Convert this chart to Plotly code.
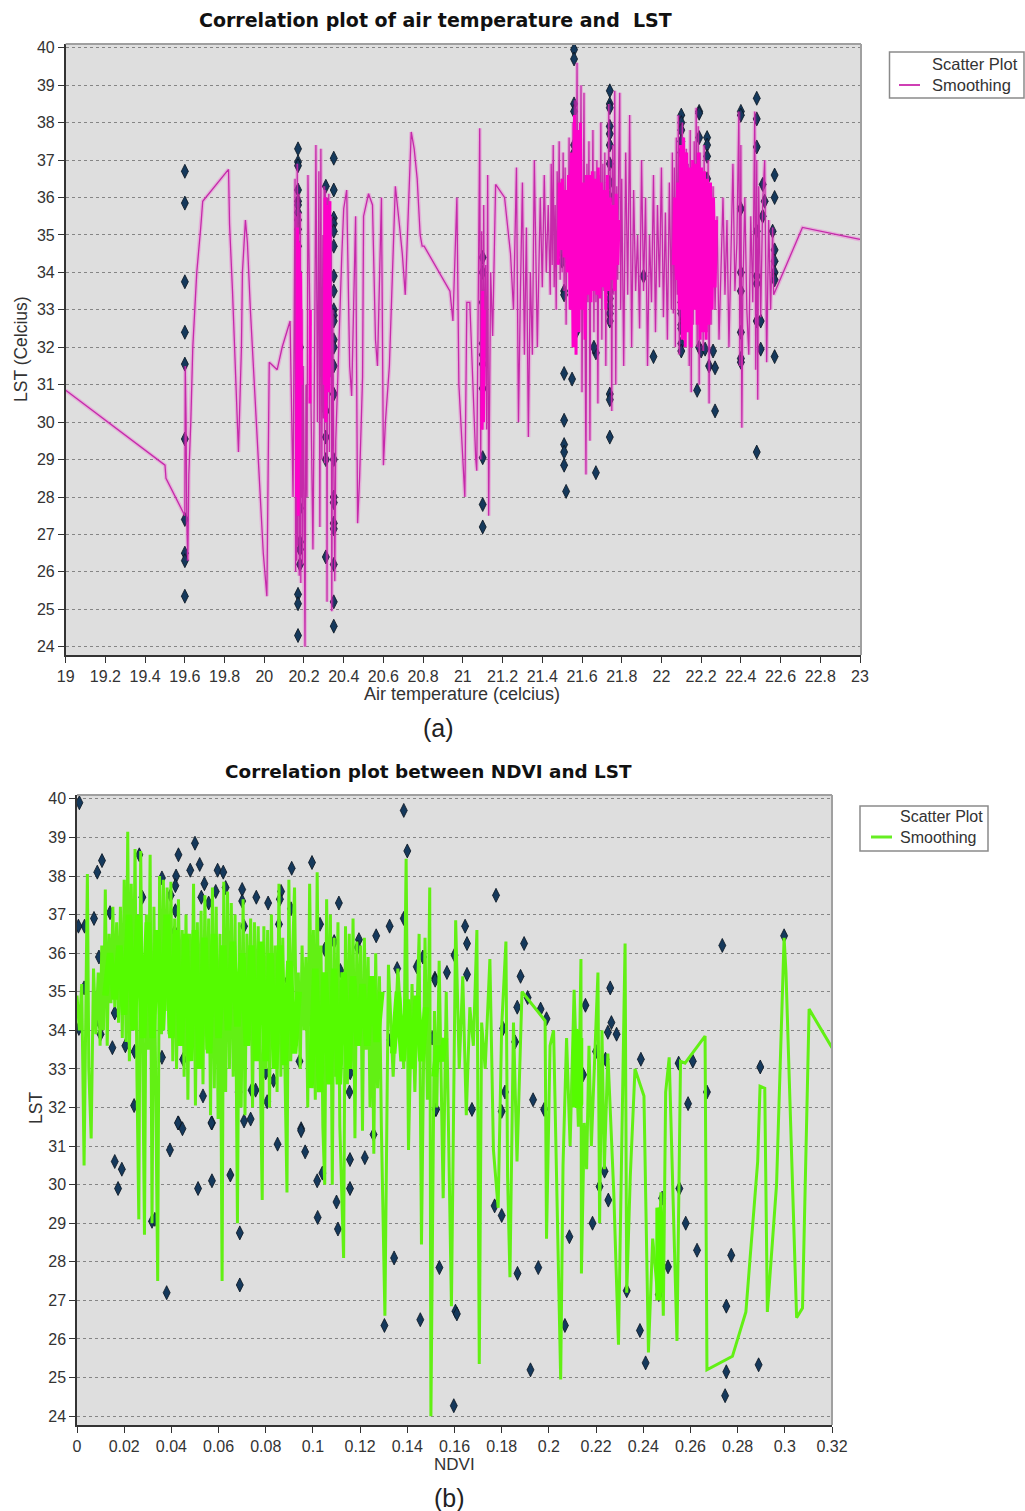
import plotly.graph_objects as go

# ---------- panel (a) scatter ----------
air_pts_x = [19.6]*10 + [20.17]*15 + [20.18]*10 + [20.31]*6 + [20.35]*23 + [21.1]*10 \
    + [21.5,21.5,21.5,21.5,21.51,21.51,21.51,21.51,21.51,21.51,21.51,21.52] \
    + [21.56]*8 + [21.55,21.57,21.54] + [21.67,21.67,21.66] + [21.74]*18 + [21.91,21.96] \
    + [22.1]*12 + [22.19,22.19,22.19,22.18,22.19,22.2] + [22.23,22.23,22.23,22.23,22.22,22.24,22.27,22.27,22.26] \
    + [22.4]*8 + [22.48]*8 + [22.51,22.52,22.51,22.5,22.5] + [22.57,22.57,22.57,22.57,22.57,22.57,22.57,22.56]
lst_pts_a = [36.7,35.85,33.75,32.4,31.55,29.55,27.4,26.5,26.3,25.35,
    37.3,36.95,36.85,36.2,35.9,35.8,35.6,35.4,35.15,34.7,34,33.8,25.4,25.15,24.3,
    28.3,27.7,26.8,26.6,26.2,32,31,30.5,30,29.8,
    36.3,32.2,30.3,29.6,29,26.4,
    37.05,36.2,35.45,35.3,35.1,34.7,33.9,33.5,33,32.85,32.7,32.2,32,31.5,30.75,29,28,27.85,27.3,27.15,26.2,25.2,24.55,
    34.4,34.0,33.2,32.1,31.8,31.55,30.9,29.05,27.8,27.2,
    34.9,34.7,34.5,34.3,33.5,33.4,31.3,30.05,29.4,29.2,28.85,28.15,
    39.95,39.7,38.5,38.3,37.4,37.2,36.9,36.4,31.15,32.4,34.3,
    31.85,28.65,32.0,
    38.85,38.5,38.4,37.9,37.7,37.4,36.9,36.4,36,35.5,33.5,33.3,33.1,32.9,32.7,30.75,30.6,29.6,
    33.9,31.75,
    38.2,38,37.8,37.5,37.2,33.2,33,32.9,32.6,32.1,31.9,32.5,
    38.3,38.25,37.6,30.85,32,31.9,
    37.6,37.4,37.1,36.5,31.95,31.5,30.3,31.45,31.9,
    38.3,38.2,35.7,34.0,33.5,32.4,31.7,31.6,
    38.65,38.1,37.35,35.1,33.9,33.7,32.7,29.2,
    36.35,35.9,35.5,32.7,31.95,
    36.6,36,34.6,34.3,34,33.8,31.75,35.1]

# ---------- panel (a) line ----------
air_line = [19.0,19.5,19.505,19.6,19.602,19.606,19.61,19.615,19.62,19.63,
    19.64,19.66,19.68,19.69,19.82,19.825,19.84,19.855,19.86,19.87,
    19.885,19.89,19.905,19.915,19.93,19.945,19.96,19.98,19.995,20.013,
    20.02,20.025,20.065,20.09,20.13,20.145,20.155,20.158,20.161,20.164,
    20.166,20.168,20.17,20.172,20.174,20.176,20.178,20.18,20.182,20.184,
    20.186,20.188,20.19,20.193,20.196,20.199,20.202,20.205,20.21,20.215,
    20.22,20.228,20.235,20.245,20.255,20.26,20.268,20.275,20.28,20.285,
    20.29,20.295,20.298,20.301,20.304,20.307,20.31,20.313,20.316,20.319,
    20.322,20.325,20.328,20.331,20.334,20.337,20.34,20.345,20.35,20.355,
    20.36,20.38,20.39,20.4,20.415,20.43,20.44,20.46,20.47,20.48,
    20.495,20.5,20.525,20.545,20.56,20.57,20.59,20.6,20.61,20.63,
    20.645,20.66,20.68,20.695,20.71,20.72,20.73,20.74,20.755,20.77,
    20.785,20.795,20.805,20.935,20.95,20.97,20.98,21.01,21.02,21.035,
    21.065,21.07,21.085,21.09,21.095,21.1,21.105,21.11,21.115,21.12,
    21.125,21.13,21.14,21.15,21.165,21.21,21.24,21.255,21.27,21.28,
    21.29,21.3,21.31,21.32,21.33,21.34,21.35,21.36,21.375,21.39,
    21.4,21.41,21.42,21.43,21.44,21.445,21.45,21.455,21.46,21.465,
    21.47,21.475,21.48,21.485,21.49,21.495,21.5,21.505,21.51,21.515,
    21.52,21.525,21.53,21.535,21.54,21.545,21.55,21.555,21.56,21.565,
    21.57,21.575,21.58,21.585,21.59,21.595,21.6,21.605,21.61,21.615,
    21.62,21.625,21.63,21.635,21.64,21.645,21.65,21.655,21.66,21.665,
    21.67,21.675,21.68,21.685,21.69,21.695,21.7,21.705,21.71,21.715,
    21.72,21.725,21.73,21.735,21.74,21.745,21.75,21.755,21.76,21.765,
    21.77,21.775,21.78,21.785,21.79,21.795,21.8,21.81,21.82,21.83,
    21.84,21.85,21.86,21.87,21.88,21.89,21.9,21.91,21.92,21.93,
    21.94,21.95,21.96,21.97,21.98,21.99,22.0,22.01,22.02,22.03,
    22.04,22.05,22.055,22.06,22.065,22.07,22.075,22.08,22.085,22.09,
    22.095,22.1,22.105,22.11,22.115,22.12,22.125,22.13,22.135,22.14,
    22.145,22.15,22.155,22.16,22.165,22.17,22.175,22.18,22.185,22.19,
    22.195,22.2,22.205,22.21,22.215,22.22,22.225,22.23,22.235,22.24,
    22.245,22.25,22.255,22.26,22.27,22.28,22.29,22.3,22.31,22.32,
    22.33,22.34,22.35,22.36,22.37,22.38,22.39,22.395,22.4,22.405,
    22.41,22.42,22.43,22.44,22.45,22.46,22.47,22.475,22.48,22.485,
    22.49,22.5,22.51,22.52,22.53,22.54,22.55,22.56,22.565,22.71,
    23.0]
lst_line_a = [30.85,28.85,28.5,27.5,31.5,30.1,27.3,26.3,28.6,30,
    32,34,35.2,35.9,36.75,35.3,33.5,31.5,30.5,29.2,
    32,34,35.4,34.8,33,31.5,30,28,26.5,25.35,
    28.5,31.6,31.4,32,32.7,28,36.5,26.0,35.5,26.3,
    36.9,26.7,35.0,27.5,36.1,25.9,34.8,27.0,35.6,25.7,
    33.9,28.0,33.0,26.2,31.5,30.0,25.5,24.0,31.0,28.0,
    36.6,33.3,30.0,26.6,33.0,37.4,30.0,36.7,27.2,37.3,
    29.0,35.0,30.1,36.3,28.9,36.2,30.5,36.0,25.2,36.0,
    31.0,36.1,29.2,35.9,31.2,35.5,24.95,33.0,29.0,25.75,
    29.5,33,34.4,35.7,36.2,31.5,30.7,35.5,27.3,28.5,
    31.2,35.5,36.1,35.8,32.2,31.5,36,28.85,30,31.5,
    34,36.3,35.3,34.5,33.4,34.8,36.5,37.75,37.3,36.5,
    35,34.7,34.7,33.5,32.7,36,31,28,33.2,33.2,
    29,28.7,37.85,29,35.1,29.8,35.8,31.0,34.2,29.8,
    36.6,27.5,34.0,32.3,36.35,36,34.5,33,36.8,30.0,
    33.5,36.4,31.8,35.2,29.6,34.0,31.8,37.0,32.0,36.0,
    33.6,36.6,34.0,35.8,33.4,36.9,34.2,37.4,33.6,35.8,
    33.0,36.7,34.5,37.5,33.8,36.5,34.0,37.2,33.5,36.8,
    32.6,36.0,34.2,37.6,33.4,36.4,34.3,38.0,32.0,38.6,
    33.8,39.6,33.5,36.8,34.0,39.0,30.8,36.5,38.8,33.0,
    28.6,36.9,33.2,37.5,29.5,36.4,34.0,37.8,32.4,36.7,
    33.2,37.0,30.5,36.6,33.8,38.0,32.2,36.9,33.5,37.2,
    31.5,36.5,34.0,38.5,32.6,36.8,30.3,37.4,33.4,38.85,
    31.0,36.3,33.8,37.0,38.8,33.0,36.5,31.5,37.2,33.4,
    38.2,32.0,36.2,33.5,35.0,32.5,37.0,33.5,36.0,31.5,
    35.0,33.2,36.6,32.4,35.8,33.6,36.8,32.8,35.6,32.2,
    36.4,33.0,37.2,32.9,36.8,32.0,37.6,33.4,38.2,31.8,
    37.0,33.2,38.0,34.0,36.6,32.5,37.3,33.5,36.9,31.5,
    37.8,30.8,36.5,32.6,37.5,33.0,38.4,32.0,37.9,31.0,
    37.2,33.4,36.5,31.9,37.4,33.0,36.0,32.4,37.0,30.5,
    36.0,32.6,34.8,36.3,33.0,35.5,32.2,34.4,36.0,33.4,
    35.4,32.0,34.6,36.9,33.5,34.8,38.3,31.5,37.4,29.85,
    33.5,36.0,33.0,31.8,35.5,33.2,38.3,31.4,37.0,30.6,
    36.3,32.8,35.9,37.0,31.6,35.4,33.0,35.2,33.4,35.2,
    34.88]

# overlap core of panel (a): where the line folds over itself the colour saturates
air_core = [20.163,20.167,20.171,20.175,20.179,20.183,20.187,None,
    20.23,20.232,None,
    20.302,20.306,20.31,20.314,20.318,20.322,20.326,20.33,None,
    21.096,21.1,21.104,21.108,None,
    21.48,21.487,21.495,21.502,21.51,21.517,21.525,21.532,21.54,21.547,
    21.555,21.562,21.57,21.577,21.585,21.592,21.6,21.607,21.615,21.622,
    21.63,21.637,21.645,21.652,21.66,21.667,21.675,21.682,21.69,21.697,
    21.705,21.712,21.72,21.727,21.735,21.742,21.75,21.757,21.765,21.772,
    21.78,21.787,None,
    22.06,22.067,22.075,22.082,22.09,22.097,22.105,22.112,22.12,22.127,
    22.135,22.142,22.15,22.157,22.165,22.172,22.18,22.187,22.195,22.202,
    22.21,22.217,22.225,22.232,22.24,22.247,22.255,22.262,22.27,22.277]
lst_core_a = [28.0,35.2,27.5,34.8,29.0,34.0,31.0,None,
    30.5,33.0,None,
    31.0,36.0,30.0,35.8,31.5,35.5,30.8,35.9,None,
    29.8,33.5,30.0,33.0,None,
    34.2,36.4,34.6,36.5,34.4,36.2,34.0,36.6,33.0,37.2,
    32.0,38.2,31.8,37.8,32.4,38.0,33.0,36.4,32.2,36.6,
    33.4,36.6,33.2,36.7,33.5,36.5,33.4,36.8,33.3,36.4,
    33.6,36.2,33.0,36.6,33.5,36.0,33.8,35.8,33.5,36.1,
    34.2,35.4,None,
    34.2,36.0,33.8,36.4,33.0,37.4,32.2,37.6,32.0,37.2,
    32.4,36.8,32.0,37.0,33.0,36.9,32.6,37.2,32.2,36.8,
    32.4,36.7,32.2,36.5,32.6,36.4,33.0,36.0,33.6,35.4]

# ---------- panel (b) scatter ----------
ndvi_pts = [0.001,0.0086,0.0106,0.0264,0.05,0.043,0.052,0.048,0.042,0.0596,0.062,0.054,0.0417,0.0397,0.0277,0.036,
    0.063,0.0588,0.07,0.07,0.0558,0.0527,0.076,0.081,0.0865,0.086,0.091,0.0996,0.111,0.0907,0.0856,0.0708,
    0.0417,0.0414,0.014,0.0072,0.0032,0.0006,0.0093,0.015,0.003,0.0093,0.0093,0.0096,0.01,0.0008,0.016,0.015,
    0.0205,0.0244,0.0213,0.036,0.045,0.0242,0.0534,0.043,0.0447,0.0572,0.0736,0.0708,0.074,0.0757,0.0685,0.0806,
    0.095,0.0943,0.08,0.0833,0.1158,0.1155,0.1328,0.1257,0.152,0.1517,0.144,0.1466,0.1357,0.1325,0.1268,0.1385,
    0.1385,0.14,0.1195,0.119,0.109,0.105,0.103,0.1116,0.0895,0.1254,
    0.1776,0.1645,0.1653,0.1653,0.1518,0.1568,0.16,0.1895,0.188,0.191,0.1866,0.1965,0.199,0.2155,0.226,0.2265,
    0.225,0.2287,0.22,0.224,0.239,0.255,0.261,0.267,0.259,0.2896,0.2735,0.2997,0.1806,0.1857,0.1814,0.1674,
    0.1933,0.198,0.1522,0.1505,0.2145,0.18,
    0.1303,0.1344,0.1455,0.1536,0.1604,0.161,0.1597,0.177,0.18,0.1867,0.1922,0.1955,0.2068,0.2087,0.2185,0.2215,
    0.2236,0.2252,0.233,0.2386,0.241,0.2466,0.248,0.2505,0.2553,0.258,0.2628,0.2773,0.2752,0.2752,0.2747,0.2889,
    0.016,0.019,0.0174,0.0318,0.033,0.038,0.0394,0.0428,0.0513,0.0572,0.065,0.069,0.069,0.057,0.085,0.095,
    0.0967,0.1018,0.102,0.104,0.1106,0.11,0.1157,0.1157,0.122]
lst_pts_b = [39.9,38.1,38.4,38.55,38.85,38.55,38.3,38.15,38.0,38.15,38.1,37.8,37.75,37.5,37.45,37.95,
    37.7,37.6,37.65,37.35,37.3,37.45,37.45,37.3,37.6,37.4,38.2,38.35,37.3,37.15,36.75,36.7,
    37.1,36.55,37.05,36.9,36.7,36.7,35.9,36.0,35.1,34.95,34.6,34.2,33.9,34.05,34.45,33.55,
    33.6,33.45,34.7,33.3,33.25,32.05,32.3,31.6,31.45,31.6,31.7,31.65,32.45,32.45,32.4,32.15,
    31.45,33.2,32.9,32.7,32.9,32.4,33.75,31.3,31.95,35.35,35.65,35.9,35.6,36.7,36.45,36.9,
    39.7,38.65,36.35,36.15,36.3,36.1,36.75,35.55,35.3,33.1,
    37.5,36.7,36.25,35.45,35.3,35.5,35.95,36.25,35.4,34.85,34.6,34.55,34.3,34.65,35.1,34.2,
    33.95,33.9,33.45,33.25,33.25,33.15,33.2,32.4,32.1,33.05,36.2,36.45,34.05,33.7,32.4,31.95,
    32.2,31.95,31.95,33.8,32.85,31.9,
    26.35,28.1,26.5,27.85,26.72,26.65,24.27,29.45,29.2,27.7,25.2,27.85,26.35,28.65,29,29.95,
    30.35,29.6,27.25,26.22,25.38,27.15,29.65,27.87,29.9,29,28.3,28.17,26.85,25.15,24.53,25.33,
    30.6,30.4,29.9,29.05,29.1,27.2,30.9,31.6,29.9,30.1,30.25,28.75,27.4,31.6,31.05,31.4,
    30.85,30.1,29.15,30.3,28.85,29.55,30.65,29.9,30.7]

# ---------- panel (b) line ----------
ndvi_line = [0.0,0.001,0.002,0.003,0.0044,0.005,0.006,0.007,0.008,0.009,
    0.0098,0.0105,0.0112,0.012,0.0128,0.0136,0.0144,0.0152,0.016,0.0168,
    0.0176,0.0184,0.0192,0.02,0.0208,0.0215,0.0222,0.023,0.0238,0.0246,
    0.0254,0.0262,0.027,0.0278,0.0286,0.0294,0.0302,0.031,0.0318,0.0326,
    0.0334,0.0342,0.035,0.0358,0.0366,0.0374,0.0382,0.039,0.0398,0.0406,
    0.0414,0.0422,0.043,0.0438,0.0446,0.0454,0.0462,0.047,0.0478,0.0486,
    0.0494,0.0502,0.051,0.0518,0.0526,0.0534,0.0542,0.055,0.0558,0.0566,
    0.0574,0.0582,0.059,0.0598,0.0606,0.0615,0.0622,0.063,0.0638,0.0646,
    0.0654,0.0662,0.067,0.068,0.0688,0.0696,0.0704,0.0712,0.072,0.0728,
    0.0736,0.0744,0.0752,0.076,0.0768,0.0776,0.0785,0.0792,0.08,0.0808,
    0.0816,0.0824,0.0832,0.084,0.0848,0.0856,0.0864,0.0872,0.088,0.089,
    0.0898,0.0906,0.0914,0.0922,0.093,0.0938,0.0946,0.0954,0.0962,0.097,
    0.0978,0.0986,0.0994,0.1002,0.101,0.1018,0.1026,0.1034,0.1042,0.105,
    0.1058,0.1066,0.1074,0.1082,0.109,0.1098,0.1106,0.1114,0.113,0.1138,
    0.1146,0.1154,0.1162,0.117,0.1178,0.1186,0.1194,0.1202,0.121,0.1218,
    0.1226,0.1234,0.1242,0.125,0.1258,0.1266,0.1274,0.1282,0.129,0.1305,
    0.132,0.134,0.136,0.1385,0.1395,0.1405,0.142,0.1432,0.145,0.146,
    0.1475,0.1485,0.1495,0.15,0.1515,0.1525,0.1535,0.1552,0.1565,0.1587,
    0.1605,0.162,0.1635,0.165,0.1665,0.168,0.1695,0.1705,0.1715,0.173,
    0.175,0.1765,0.1785,0.18,0.1818,0.1825,0.1835,0.185,0.1865,0.1886,
    0.1984,0.199,0.2005,0.202,0.205,0.206,0.2075,0.209,0.2107,0.2125,
    0.2136,0.2138,0.215,0.216,0.217,0.218,0.2208,0.2215,0.2225,0.2235,
    0.225,0.2275,0.2295,0.2323,0.233,0.2345,0.2365,0.2403,0.2422,0.244,
    0.246,0.2475,0.2485,0.2495,0.251,0.2543,0.2558,0.2577,0.2662,0.267,
    0.2778,0.2835,0.2885,0.2895,0.2915,0.2926,0.2965,0.2997,0.3005,0.305,
    0.3075,0.3103,0.32]
lst_line_b = [34.9,34.0,35.2,30.5,38.05,33.0,31.2,35.6,33.9,35.5,
    33.6,36.2,34.0,37.65,33.6,36.5,34.7,37.2,34.6,36.8,
    34.2,37.2,33.8,37.9,33.7,39.15,33.2,37.8,34.2,38.7,
    32.8,29.1,38.65,33.4,28.7,37.0,33.5,38.55,29.0,37.2,
    33.1,27.5,38.0,33.9,37.9,34.5,37.7,33.9,37.85,33.2,
    36.9,33.0,37.4,34.0,36.6,32.8,37.0,32.2,36.5,33.6,
    37.8,32.05,36.8,33.4,37.1,32.6,37.5,33.5,36.9,31.8,
    37.7,32.5,37.2,31.7,36.5,27.5,37.85,32.4,37.6,33.0,
    37.3,32.8,37.0,29.0,36.8,32.0,37.4,31.8,36.5,33.6,
    36.9,32.0,36.8,33.5,36.7,32.6,29.6,36.7,33.0,36.6,
    32.0,37.0,33.5,36.2,32.4,37.8,32.8,36.4,33.2,29.8,
    37.9,33.2,36.0,37.7,33.6,35.5,33.0,36.2,34.0,35.9,
    32.0,37.8,34.0,36.6,32.2,38.1,33.0,36.2,31.5,30.0,
    37.4,33.4,37.0,30.0,36.4,32.8,36.8,31.5,28.1,36.7,
    32.6,36.5,33.0,36.9,31.2,36.3,33.6,36.2,31.4,36.4,
    33.5,35.9,32.0,35.2,30.8,36.0,32.5,35.4,31.5,26.6,
    35.7,32.8,35.6,33.0,38.45,30.9,35.2,32.4,36.5,28.45,
    36.4,32.2,37.7,24.0,34.5,32.0,35.8,29.65,35.0,26.85,
    36.85,33.0,35.4,31.8,34.6,33.6,36.6,25.35,34.2,33.0,
    35.85,30.9,29.4,34.1,36.3,30.2,27.6,34.2,30.6,35.0,
    34.25,28.6,33.6,34.0,24.95,30.5,33.8,31.0,35.05,31.5,
    35.85,27.7,31.6,30.4,33.6,31.0,35.5,29.0,34.0,30.4,
    33.4,29.8,25.85,36.25,27.2,30.2,33.0,32.3,25.65,28.6,
    27.2,29.8,26.6,32.4,33.3,25.95,33.2,33.15,33.85,25.2,
    25.55,26.7,30.6,32.55,32.5,26.7,30.0,36.4,35.5,26.55,
    26.8,34.55,33.55]

# overlap core of panel (b)
ndvi_core = [0.012,0.014,0.016,0.018,0.02,0.022,0.024,0.026,0.028,0.03,
    0.032,0.034,0.036,0.038,0.04,0.042,0.044,0.046,0.048,0.05,
    0.052,0.054,0.056,0.058,0.06,0.062,0.064,0.066,0.068,0.07,
    0.072,0.074,0.076,0.078,0.08,0.082,0.084,0.086,0.088,0.09,
    0.092,0.094,None,
    0.099,0.101,0.103,0.105,0.107,0.109,0.111,0.113,0.115,0.117,
    0.119,0.121,0.123,0.125,0.127,0.129,None,
    0.134,0.136,0.138,0.14,0.142,0.144,0.146,0.148,None,
    0.1515,0.153,0.1545,0.156,None,
    0.2112,0.2112,0.2122,0.2122,0.2132,0.2132,None,
    0.2465,0.2465,0.2472,0.2472]
lst_core_b = [34.9,36.0,34.8,36.2,34.4,37.0,34.0,37.0,33.8,36.8,
    33.8,36.6,34.0,37.0,33.8,36.6,33.6,36.5,33.2,36.6,
    33.0,36.4,33.4,36.5,33.8,36.2,34.0,36.3,34.1,36.0,
    33.6,36.2,33.2,36.3,33.2,36.0,33.0,36.2,33.1,35.8,
    33.4,35.0,None,
    32.5,35.6,32.4,35.5,32.6,35.6,32.6,35.5,33.0,35.4,
    33.6,35.2,33.6,35.4,33.7,35.0,None,
    33.4,35.0,33.2,34.8,33.0,34.9,33.2,34.6,None,
    32.8,33.6,33.2,33.8,None,
    32.0,34.0,33.9,32.0,32.1,33.8,None,
    27.0,29.4,29.2,27.2]

y_ticks = list(range(24, 41))
air_ticks = [19,19.2,19.4,19.6,19.8,20,20.2,20.4,20.6,20.8,21,21.2,21.4,21.6,21.8,22,22.2,22.4,22.6,22.8,23]
air_tick_text = ["19","19.2","19.4","19.6","19.8","20","20.2","20.4","20.6","20.8","21","21.2","21.4","21.6","21.8","22","22.2","22.4","22.6","22.8","23"]
ndvi_ticks = [0,0.02,0.04,0.06,0.08,0.1,0.12,0.14,0.16,0.18,0.2,0.22,0.24,0.26,0.28,0.3,0.32]
ndvi_tick_text = ["0","0.02","0.04","0.06","0.08","0.1","0.12","0.14","0.16","0.18","0.2","0.22","0.24","0.26","0.28","0.3","0.32"]

W, H = 1025, 1511
MAGENTA, MAGENTA_HOT, MAGENTA_HALO = "#c52aaa", "#ff00c8", "rgba(255,0,200,0.2)"
GREEN, GREEN_HOT = "#62f014", "#55fb00"
marker = dict(symbol="diamond-tall", size=10, color="#15395c", line=dict(color="#0a1420", width=0.8))
FONT = "Liberation Sans, Arial, sans-serif"
TXT = "#333333"

fig = go.Figure()
# (a)
fig.add_trace(go.Scatter(x=air_pts_x, y=lst_pts_a, mode="markers", marker=marker, name="Scatter Plot",
                         xaxis="x", yaxis="y"))
fig.add_trace(go.Scatter(x=air_line, y=lst_line_a, mode="lines", line=dict(color=MAGENTA_HALO, width=4),
                         hoverinfo="skip", xaxis="x", yaxis="y"))
fig.add_trace(go.Scatter(x=air_line, y=lst_line_a, mode="lines", line=dict(color=MAGENTA, width=1.3),
                         name="Smoothing", xaxis="x", yaxis="y"))
fig.add_trace(go.Scatter(x=air_core, y=lst_core_a, mode="lines", line=dict(color=MAGENTA_HOT, width=3),
                         hoverinfo="skip", connectgaps=False, xaxis="x", yaxis="y"))
# (b)
fig.add_trace(go.Scatter(x=ndvi_pts, y=lst_pts_b, mode="markers", marker=marker, name="Scatter Plot",
                         xaxis="x2", yaxis="y2"))
fig.add_trace(go.Scatter(x=ndvi_line, y=lst_line_b, mode="lines", line=dict(color=GREEN, width=3),
                         name="Smoothing", xaxis="x2", yaxis="y2"))
fig.add_trace(go.Scatter(x=ndvi_core, y=lst_core_b, mode="lines", line=dict(color=GREEN_HOT, width=6.5),
                         hoverinfo="skip", connectgaps=False, xaxis="x2", yaxis="y2"))


def axis(domain, rng, ticks, text, anchor, grid=False, size=16):
    return dict(domain=domain, range=rng, tickmode="array", tickvals=ticks, ticktext=text,
                showgrid=grid, griddash="dot", gridcolor="#858585", gridwidth=1,
                showline=True, linecolor=TXT, linewidth=1.5, automargin=False,
                ticks="outside", ticklen=6, tickcolor=TXT, zeroline=False,
                tickfont=dict(family=FONT, size=size, color=TXT), anchor=anchor)


def note(text, px, py, size, color=TXT, family=FONT, angle=0, anchor="center"):
    return dict(text=text, x=px/W, y=1-py/H, xref="paper", yref="paper", showarrow=False, textangle=angle,
                xanchor=anchor, yanchor="middle", font=dict(family=family, size=size, color=color))


def border(xa, ya):
    c = dict(color="#a0a0a0", width=2)
    return [dict(type="line", xref=f"{xa} domain", yref=f"{ya} domain", x0=0, x1=1, y0=1, y1=1, line=c),
            dict(type="line", xref=f"{xa} domain", yref=f"{ya} domain", x0=1, x1=1, y0=0, y1=1, line=c)]


def legend_shapes(x0, x1, y0, y1, sx0, sx1, sy, color, width):
    return [dict(type="rect", xref="paper", yref="paper", x0=x0/W, x1=x1/W, y0=1-y1/H, y1=1-y0/H,
                 fillcolor="white", line=dict(color="#8a8a8a", width=1.5)),
            dict(type="line", xref="paper", yref="paper", x0=sx0/W, x1=sx1/W, y0=1-sy/H, y1=1-sy/H,
                 line=dict(color=color, width=width))]


fig.update_layout(
    width=W, height=H, margin=dict(l=0, r=0, t=0, b=0, autoexpand=False), showlegend=False,
    paper_bgcolor="white", plot_bgcolor="#dedede",
    xaxis=axis([65.7/W, 861/W], [19, 23.005], air_ticks, air_tick_text, "y"),
    yaxis=axis([1-655/H, 1-44/H], [23.78, 40.1], y_ticks, [str(v) for v in y_ticks], "x", True),
    xaxis2=axis([77/W, 832/W], [0, 0.32], ndvi_ticks, ndvi_tick_text, "y2"),
    yaxis2=axis([1-1425/H, 1-795/H], [23.77, 40.1], y_ticks, [str(v) for v in y_ticks], "x2", True),
    shapes=border("x", "y") + border("x2", "y2")
        + legend_shapes(889.5, 1024, 52, 98, 899, 920, 85, "#cf3fb4", 2)
        + legend_shapes(860, 988, 806, 851, 871, 892, 837, "#66ee22", 3),
    annotations=[
        note("<b>Correlation plot of air temperature and  LST</b>", 435, 20, 19, "#111111", "DejaVu Sans"),
        note("<b>Correlation plot between NDVI and LST</b>", 428, 771, 18.4, "#111111", "DejaVu Sans"),
        note("Air temperature (celcius)", 462, 694, 18),
        note("LST (Celcius)", 21, 349, 17.5, angle=-90),
        note("NDVI", 454, 1464, 17),
        note("LST", 36, 1108, 17.5, angle=-90),
        note("(a)", 438, 728, 25, "#222222"),
        note("(b)", 449, 1498, 25, "#222222"),
        note("Scatter Plot", 930, 64, 16.5, anchor="left"),
        note("Smoothing", 930, 85, 16.5, anchor="left"),
        note("Scatter Plot", 898, 816, 16, anchor="left"),
        note("Smoothing", 898, 837, 16, anchor="left"),
    ],
)

fig.write_html("out.html", config=dict(displayModeBar=False),
               post_script="document.body.style.margin='0';document.documentElement.style.overflow='hidden';window.dispatchEvent(new Event('resize'));")
